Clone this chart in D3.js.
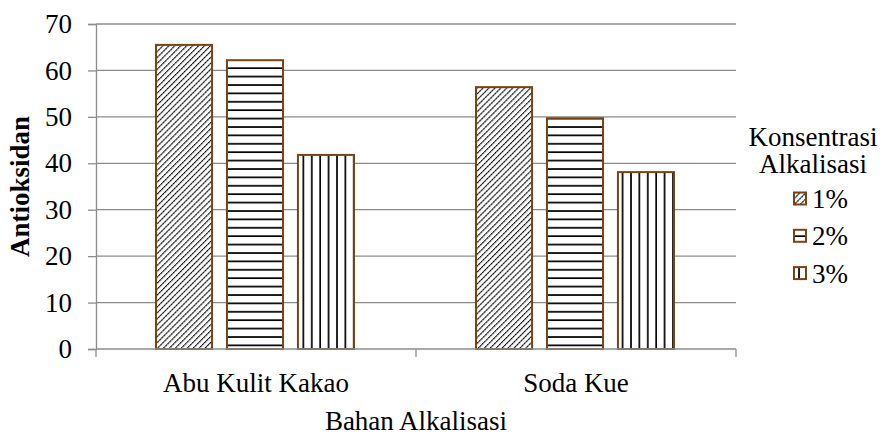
<!DOCTYPE html>
<html>
<head>
<meta charset="utf-8">
<script src="https://cdn.jsdelivr.net/npm/d3@7"></script>
<style>
  html, body { margin: 0; padding: 0; background: #fff; }
</style>
</head>
<body>
<svg id="chart" width="880" height="435"></svg>
<script>
const categories = ["Abu Kulit Kakao", "Soda Kue"];
const seriesNames = ["1%", "2%", "3%"];
const values1 = [65.5, 56.4];
const values2 = [62.2, 49.7];
const values3 = [41.8, 38.1];
const yTicks = [0, 10, 20, 30, 40, 50, 60, 70];

const FONT = "'Liberation Serif', Tinos, 'Times New Roman', 'DejaVu Serif', serif";
const FS = "27px";
const seriesValues = [values1, values2, values3];
const svg = d3.select("#chart");
const margin = { left: 96, right: 144, top: 24, bottom: 86 };
const W = 880, H = 435;
const x0 = margin.left, x1 = W - margin.right;
const yTop = margin.top, yBot = H - margin.bottom;

const x = d3.scaleBand().domain(categories).range([x0, x1]).paddingInner(0).paddingOuter(0);
const xs = d3.scaleBand().domain(seriesNames).range([0, 198]).paddingInner(0.21).paddingOuter(0);
const y = d3.scaleLinear().domain([0, 70]).range([yBot, yTop]);

const stroke = "#7a4412";
const grid = "#8c8c8c";

// fill patterns
const defs = svg.append("defs");
const pDiag = defs.append("pattern").attr("id", "pat1").attr("patternUnits", "userSpaceOnUse")
  .attr("width", 4.2).attr("height", 6).attr("patternTransform", "rotate(45)");
pDiag.append("rect").attr("width", 4.2).attr("height", 6).attr("fill", "#fff");
pDiag.append("line").attr("x1", 0).attr("y1", 0).attr("x2", 0).attr("y2", 6)
  .attr("stroke", "#555").attr("stroke-width", 2.1);
pDiag.append("line").attr("x1", 0).attr("y1", 0).attr("x2", 0).attr("y2", 6)
  .attr("stroke", "#000").attr("stroke-width", 2.1).attr("stroke-dasharray", "1.8 1.2");

const pHor = defs.append("pattern").attr("id", "pat2").attr("patternUnits", "userSpaceOnUse")
  .attr("width", 8).attr("height", 8.4);
pHor.append("rect").attr("width", 8).attr("height", 8.4).attr("fill", "#fff");
pHor.append("line").attr("x1", 0).attr("y1", 1).attr("x2", 8).attr("y2", 1)
  .attr("stroke", "#000").attr("stroke-width", 1.7);

const pVer = defs.append("pattern").attr("id", "pat3").attr("patternUnits", "userSpaceOnUse")
  .attr("width", 8.4).attr("height", 8);
pVer.append("rect").attr("width", 8.4).attr("height", 8).attr("fill", "#fff");
pVer.append("line").attr("x1", 1).attr("y1", 0).attr("x2", 1).attr("y2", 8)
  .attr("stroke", "#000").attr("stroke-width", 1.7);

const pats = ["url(#pat1)", "url(#pat2)", "url(#pat3)"];

// gridlines
svg.append("g").selectAll("line").data(yTicks.filter(d => d > 0)).join("line")
  .attr("x1", x0).attr("x2", x1).attr("y1", d => y(d)).attr("y2", d => y(d))
  .attr("stroke", grid).attr("stroke-width", 1.3);

// y axis
const yAxis = svg.append("g").attr("transform", `translate(${x0},0)`)
  .call(d3.axisLeft(y).tickValues(yTicks).tickSize(8).tickPadding(16));
yAxis.attr("font-family", null).attr("font-size", null);
yAxis.select(".domain").attr("stroke", grid).attr("stroke-width", 1.3);
yAxis.selectAll(".tick line").attr("stroke", grid).attr("stroke-width", 1.3);
yAxis.selectAll(".tick text").style("font-family", FONT).style("font-size", FS).attr("fill", "#000");

// bars
seriesNames.forEach((s, i) => {
  svg.append("g").selectAll("rect").data(categories).join("rect")
    .attr("x", c => x(c) + 60 + xs(s))
    .attr("y", (c, j) => y(seriesValues[i][j]))
    .attr("width", xs.bandwidth())
    .attr("height", (c, j) => yBot - y(seriesValues[i][j]))
    .attr("fill", pats[i])
    .attr("stroke", stroke).attr("stroke-width", 2);
});

// x axis
const xAxisG = svg.append("g").attr("transform", `translate(0,${yBot})`);
xAxisG.append("line").attr("x1", x0).attr("x2", x1).attr("stroke", grid).attr("stroke-width", 1.3);
const bounds = [x0].concat(categories.map(c => x(c) + x.bandwidth()));
xAxisG.selectAll("line.tk").data(bounds).join("line").attr("class", "tk")
  .attr("x1", d => d).attr("x2", d => d).attr("y1", 0).attr("y2", 8)
  .attr("stroke", grid).attr("stroke-width", 1.3);
xAxisG.selectAll("text").data(categories).join("text")
  .attr("x", c => x(c) + x.bandwidth() / 2).attr("y", 43)
  .attr("text-anchor", "middle").style("font-family", FONT).style("font-size", FS).text(c => c);

// axis titles
svg.append("text").attr("x", (x0 + x1) / 2).attr("y", 430).attr("text-anchor", "middle")
  .style("font-family", FONT).style("font-size", FS).text("Bahan Alkalisasi");
svg.append("text").attr("transform", `translate(29,${(yTop + yBot) / 2}) rotate(-90)`)
  .attr("text-anchor", "middle").style("font-family", FONT).style("font-size", FS)
  .attr("font-weight", "bold").text("Antioksidan");

// legend
const lg = svg.append("g");
lg.append("text").attr("x", 813).attr("y", 146).attr("text-anchor", "middle")
  .style("font-family", FONT).style("font-size", FS).text("Konsentrasi");
lg.append("text").attr("x", 813).attr("y", 173).attr("text-anchor", "middle")
  .style("font-family", FONT).style("font-size", FS).text("Alkalisasi");
seriesNames.forEach((s, i) => {
  const cy = 198.5 + i * 37.3;
  lg.append("rect").attr("x", 794).attr("y", cy - 6).attr("width", 12).attr("height", 12)
    .attr("fill", pats[i]).attr("stroke", stroke).attr("stroke-width", 2);
  lg.append("text").attr("x", 812).attr("y", cy + 9.5)
    .style("font-family", FONT).style("font-size", FS).text(s);
});
</script>
</body>
</html>
